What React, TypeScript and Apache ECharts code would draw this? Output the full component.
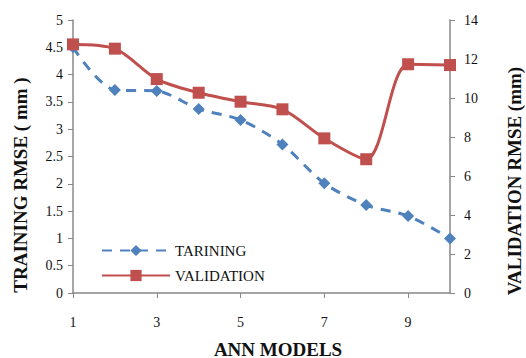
import React, { useEffect, useRef } from "react";
import * as echarts from "echarts";

const models = ["1", "2", "3", "4", "5", "6", "7", "8", "9", "10"];
const training = [4.5, 3.72, 3.7, 3.37, 3.17, 2.72, 2.01, 1.61, 1.41, 1.0];
const validation = [12.75, 12.53, 10.97, 10.27, 9.81, 9.42, 7.93, 6.86, 11.73, 11.69];

const SERIF = "Liberation Serif";

export default function App() {
  const ref = useRef<HTMLDivElement>(null);
  useEffect(() => {
    if (!ref.current) return;
    const chart = echarts.init(ref.current, null, { renderer: "svg" });
    const labelStyle = { fontFamily: SERIF, fontSize: 14, color: "#111" };
    chart.setOption({
      animation: false,
      backgroundColor: "#ffffff",
      textStyle: { fontFamily: SERIF },
      grid: { left: 73, right: 76, top: 20, bottom: 65 },
      legend: {
        orient: "vertical",
        left: 96,
        top: 238,
        itemWidth: 68,
        itemHeight: 14,
        itemGap: 10,
        textStyle: { fontFamily: SERIF, fontSize: 15, color: "#111" },
        data: ["TARINING", "VALIDATION"],
      },
      xAxis: {
        type: "category",
        data: models,
        boundaryGap: false,
        axisLine: { lineStyle: { color: "#888", width: 1.5 } },
        axisTick: { interval: 1, length: 5, lineStyle: { color: "#888" } },
        axisLabel: { interval: 1, margin: 22, ...labelStyle },
      },
      yAxis: [
        {
          type: "value",
          min: 0,
          max: 5,
          interval: 0.5,
          splitLine: { show: false },
          axisLine: { show: true, lineStyle: { color: "#888", width: 1.5 } },
          axisTick: { show: true, length: 5, lineStyle: { color: "#888" } },
          axisLabel: { margin: 10, ...labelStyle },
        },
        {
          type: "value",
          min: 0,
          max: 14,
          interval: 2,
          splitLine: { show: false },
          axisLine: { show: true, lineStyle: { color: "#888", width: 1.5 } },
          axisTick: { show: true, length: 5, lineStyle: { color: "#888" } },
          axisLabel: { margin: 14, ...labelStyle },
        },
      ],
      series: [
        {
          name: "TARINING",
          type: "line",
          data: training,
          yAxisIndex: 0,
          smooth: 0.3,
          symbol: "diamond",
          symbolSize: 12,
          color: "#4F81BD",
          lineStyle: { width: 3, type: [10, 8] },
          itemStyle: { color: "#4F81BD" },
        },
        {
          name: "VALIDATION",
          type: "line",
          data: validation,
          yAxisIndex: 1,
          smooth: 0.3,
          symbol: "rect",
          symbolSize: 12,
          color: "#C0504D",
          lineStyle: { width: 3 },
          itemStyle: { color: "#C0504D" },
        },
      ],
      graphic: [
        {
          type: "text",
          x: 20,
          y: 185,
          rotation: Math.PI / 2,
          style: {
            text: "TRAINING RMSE ( mm )",
            font: `bold 19px ${SERIF}`,
            fill: "#111",
            align: "center",
            verticalAlign: "middle",
          },
        },
        {
          type: "text",
          x: 514,
          y: 181,
          rotation: Math.PI / 2,
          style: {
            text: "VALIDATION RMSE (mm)",
            font: `bold 19px ${SERIF}`,
            fill: "#111",
            align: "center",
            verticalAlign: "middle",
          },
        },
        {
          type: "text",
          x: 278,
          y: 349,
          style: {
            text: "ANN MODELS",
            font: `bold 19px ${SERIF}`,
            fill: "#111",
            align: "center",
            verticalAlign: "middle",
          },
        },
      ],
    });
    return () => chart.dispose();
  }, []);
  return <div ref={ref} style={{ width: 526, height: 358, position: "absolute", left: 0, top: 0 }} />;
}
